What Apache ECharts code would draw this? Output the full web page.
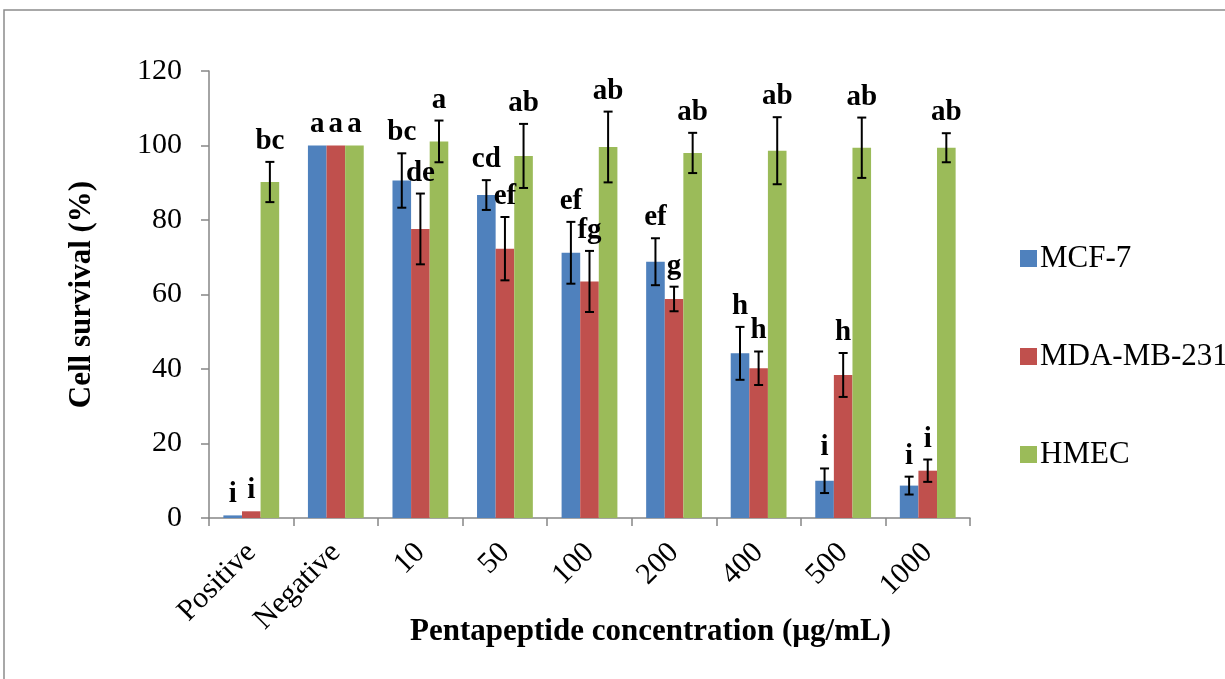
<!DOCTYPE html>
<html>
<head>
<meta charset="utf-8">
<script src="https://cdn.jsdelivr.net/npm/echarts@6/dist/echarts.min.js"></script>
<style>
  html, body { margin: 0; padding: 0; background: #fff; }
  #chart { width: 1225px; height: 679px; }
</style>
</head>
<body>
<div id="chart"></div>
<script>
// Treatment groups along the x axis
const categories = ['Positive', 'Negative', '10', '50', '100', '200', '400', '500', '1000'];
const seriesNames = ['MCF-7', 'MDA-MB-231', 'HMEC'];

// Mean cell survival (%)
const mcf7 = [0.7, 100, 90.6, 86.7, 71.2, 68.8, 44.2, 10.0, 8.7];
const mdamb231 = [1.8, 100, 77.6, 72.3, 63.5, 58.8, 40.2, 38.4, 12.7];
const hmec = [90.2, 100, 101.1, 97.2, 99.6, 98.0, 98.6, 99.4, 99.4];

// Standard deviation (error bar half-length)
const mcf7Err = [0, 0, 7.3, 4.0, 8.3, 6.3, 7.1, 3.3, 2.4];
const mdamb231Err = [0, 0, 9.5, 8.5, 8.2, 3.3, 4.5, 5.9, 3.0];
const hmecErr = [5.4, 0, 5.6, 8.6, 9.5, 5.4, 9.0, 8.1, 3.9];

// Significance letters
const mcf7Sig = ['i', 'a', 'bc', 'cd', 'ef', 'ef', 'h', 'i', 'i'];
const mdamb231Sig = ['i', 'a', 'de', 'ef', 'fg', 'g', 'h', 'h', 'i'];
const hmecSig = ['bc', 'a', 'a', 'ab', 'ab', 'ab', 'ab', 'ab', 'ab'];

// Y axis ticks
const yMin = 0, yMax = 120, yStep = 20;

const colors = ['#4F81BD', '#C0504D', '#9BBB59'];
const values = [mcf7, mdamb231, hmec];
const errs = [mcf7Err, mdamb231Err, hmecErr];
const sigs = [mcf7Sig, mdamb231Sig, hmecSig];

const CAT_GAP = 0.34;          // fraction of band left empty
const SERIF = '"Liberation Serif", "Times New Roman", serif';

function errorSeries(k) {
  const data = categories.map((c, i) => [i, values[k][i], errs[k][i], sigs[k][i]]);
  return {
    type: 'custom',
    name: seriesNames[k] + ' error',
    silent: true,
    z: 5,
    data: data,
    encode: { x: 0, y: 1 },
    renderItem: function (params, api) {
      const i = api.value(0);
      const v = api.value(1);
      const e = api.value(2);
      const letter = data[params.dataIndex][3];
      const band = api.size([1, 0])[0];
      const bw = band * (1 - CAT_GAP) / 3;
      const cx = api.coord([i, 0])[0] + (k - 1) * bw;
      const top = api.coord([i, v + e])[1];
      const bot = api.coord([i, v - e])[1];
      const cap = 4.5;
      const children = [];
      if (e > 0) {
        const st = { stroke: '#000', lineWidth: 2 };
        children.push(
          { type: 'line', shape: { x1: cx, y1: top, x2: cx, y2: bot }, style: st },
          { type: 'line', shape: { x1: cx - cap, y1: top, x2: cx + cap, y2: top }, style: st },
          { type: 'line', shape: { x1: cx - cap, y1: bot, x2: cx + cap, y2: bot }, style: st }
        );
      }
      children.push({
        type: 'text',
        style: {
          x: cx, y: top - 6,
          text: letter,
          fill: '#000',
          font: 'bold 29px ' + SERIF,
          textAlign: 'center',
          textVerticalAlign: 'bottom'
        }
      });
      return { type: 'group', children: children };
    }
  };
}

const barSeries = values.map((vals, k) => ({
  type: 'bar',
  name: seriesNames[k],
  data: vals,
  barGap: '0%',
  barCategoryGap: (CAT_GAP * 100) + '%',
  itemStyle: { color: colors[k] },
  silent: true
}));

const chart = echarts.init(document.getElementById('chart'), null, { renderer: 'canvas' });
chart.setOption({
  animation: false,
  backgroundColor: '#fff',
  graphic: [{
    type: 'rect',
    shape: { x: 4, y: 10, width: 1400, height: 800 },
    style: { fill: 'none', stroke: '#8c8c8c', lineWidth: 1.5 },
    z: 0
  }],
  grid: { left: 209, right: 255, top: 71, bottom: 161, containLabel: false },
  legend: {
    orient: 'vertical',
    left: 1015,
    top: 238,
    itemGap: 67,
    itemWidth: 17,
    itemHeight: 17,
    icon: 'rect',
    data: seriesNames,
    textStyle: { fontFamily: SERIF, fontSize: 31, color: '#000', padding: [0, 0, 0, -2] }
  },
  xAxis: {
    type: 'category',
    data: categories,
    name: 'Pentapeptide concentration (µg/mL)',
    nameLocation: 'middle',
    nameGap: 98,
    nameMoveOverlap: false,
    nameTextStyle: {
      fontFamily: SERIF, fontSize: 31, fontWeight: 'bold', color: '#000',
      padding: [0, 0, 0, 122]
    },
    axisLine: { lineStyle: { color: '#868686', width: 1.5 } },
    axisTick: { show: true, length: 8, lineStyle: { color: '#868686', width: 1.5 } },
    axisLabel: {
      rotate: 45,
      margin: 30,
      fontFamily: SERIF,
      fontSize: 30,
      color: '#000'
    }
  },
  yAxis: {
    type: 'value',
    min: yMin,
    max: yMax,
    interval: yStep,
    name: 'Cell survival (%)',
    nameLocation: 'middle',
    nameGap: 112,
    nameRotate: 90,
    nameMoveOverlap: false,
    nameTextStyle: { fontFamily: SERIF, fontSize: 31, fontWeight: 'bold', color: '#000' },
    splitLine: { show: false },
    axisLine: { show: true, lineStyle: { color: '#868686', width: 1.5 } },
    axisTick: { show: true, length: 8, lineStyle: { color: '#868686', width: 1.5 } },
    axisLabel: { margin: 27, fontFamily: SERIF, fontSize: 30, color: '#000' }
  },
  series: barSeries.concat([0, 1, 2].map(errorSeries))
});
</script>
</body>
</html>
